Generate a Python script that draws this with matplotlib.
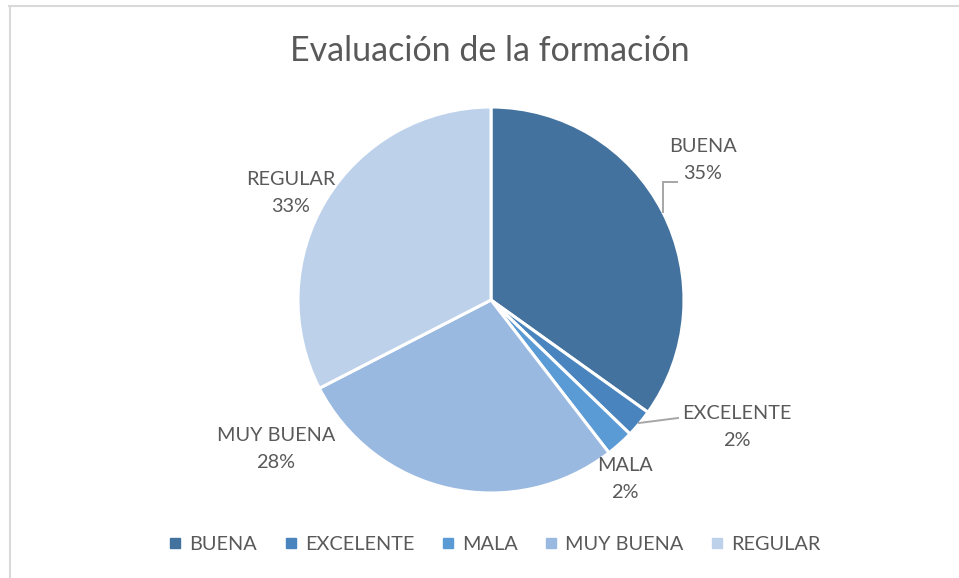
import matplotlib
matplotlib.use('Agg')
import matplotlib.pyplot as plt
from matplotlib.lines import Line2D
import numpy as np

# datos
categorias = ['BUENA', 'EXCELENTE', 'MALA', 'MUY BUENA', 'REGULAR']
respuestas = [15, 1, 1, 12, 14]
colores = ['#43729E', '#4A84BE', '#5B9BD5', '#9AB9E0', '#BDD1EB']

W, H = 959, 578
CX, CY, R = 491, 300, 193
TXT = '#595959'

plt.rcParams['font.family'] = ['Lato', 'DejaVu Sans']

fig = plt.figure(figsize=(W / 100, H / 100), dpi=100)
fig.patch.set_facecolor('white')

# ejes cuadrados centrados en la tarta
ax = fig.add_axes([(CX - R) / W, (H - CY - R) / H, 2 * R / W, 2 * R / H])

wedges, _ = ax.pie(respuestas, colors=colores, startangle=90, counterclock=False,
                   radius=1, wedgeprops=dict(edgecolor='white', linewidth=2.2))
# pie() fija los limites a +-1.25, volver a +-1
ax.set_xlim(-1, 1)
ax.set_ylim(-1, 1)
ax.axis('off')


def px(x, y):
    return (x - CX) / R, (CY - y) / R


total = sum(respuestas)
pct = [round(100 * v / total) for v in respuestas]

# posiciones de etiquetas (pixeles del original)
pos_etiquetas = [(703, 160), (737, 427), (625, 479), (276, 449), (291, 193)]
for cat, p, (x, y) in zip(categorias, pct, pos_etiquetas):
    ax.text(*px(x, y), f'{cat}\n{p}%', ha='center', va='center', color=TXT,
            fontsize=14.3, linespacing=1.75, clip_on=False)

# lineas guia
gris = '#A6A6A6'
ax.plot(*zip(px(663, 212), px(663, 182), px(677, 182)), color=gris, lw=1.4,
        solid_joinstyle='miter', clip_on=False)
ax.plot(*zip(px(639, 423), px(678, 418)), color=gris, lw=1.4, clip_on=False)

fig.text(490 / W, 1 - 51 / H, 'Evaluación de la formación', ha='center', va='center',
         color=TXT, fontsize=24.5)

handles = [Line2D([], [], marker='s', linestyle='none', markersize=7,
                  markerfacecolor=c, markeredgecolor=c) for c in colores]
fig.legend(handles, categorias, loc='center', bbox_to_anchor=(494 / W, 1 - 544 / H),
           ncol=5, frameon=False, fontsize=14.3, labelcolor=TXT, handletextpad=0.3,
           columnspacing=1.3, handlelength=0.8)

# marco del grafico
fig.add_artist(Line2D([9 / W, 1], [1 - 6 / H, 1 - 6 / H], color='#D9D9D9', lw=1.5))
fig.add_artist(Line2D([10 / W, 10 / W], [0, 1 - 6 / H], color='#D9D9D9', lw=1.5))

plt.savefig('out.png', dpi=100)
